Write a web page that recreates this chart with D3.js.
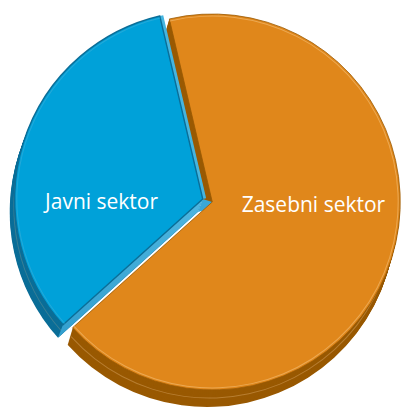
<!DOCTYPE html>
<html>
<head>
<meta charset="utf-8">
<script src="https://cdn.jsdelivr.net/npm/d3@7"></script>
<style>
  html, body { margin: 0; padding: 0; background: #fff; }
  svg { display: block; }
  .label { font-family: "Open Sans", sans-serif; font-size: 21px; fill: #fff; }
</style>
</head>
<body>
<div id="chart"></div>
<script>
// data
const categories = ["Zasebni sektor", "Javni sektor"];
const values = [67, 33];
const faceColors = ["#e0871b", "#00a1d9"];
const rimColors = ["#995902", "#0b6e98"];
const wallColors = ["#995902", "#45b5e0"];

// setup canvas
const width = 406;
const height = 409;
const cx = 207.5, cy = 200.5;
const radius = 188;
const explode = 5;
// extrusion offset of the 3d side, per slice
const depths = [[-5, 17], [-5, 13]];
const steps = 17;
const startAngle = -13.2 * Math.PI / 180;

const svg = d3.select("#chart").append("svg")
  .attr("width", width)
  .attr("height", height);

// gradient for the lit wall of the blue slice
const grad = svg.append("defs").append("linearGradient")
  .attr("id", "bluewall")
  .attr("x1", 0).attr("y1", 0).attr("x2", 0.4).attr("y2", 1);
grad.append("stop").attr("offset", "0%").attr("stop-color", "#62c6ec");
grad.append("stop").attr("offset", "100%").attr("stop-color", "#2a98c9");

const pie = d3.pie()
  .sort(null)
  .startAngle(startAngle)
  .endAngle(startAngle + 2 * Math.PI)
  .value(d => d);

const arcs = pie(values);

const arc = d3.arc().innerRadius(0).outerRadius(radius);
const rimHighlight = d3.arc().innerRadius(radius - 2.6).outerRadius(radius - 1.6);
const labelArc = d3.arc().innerRadius(0).outerRadius(2 * 106);

// centre of each (exploded) slice
arcs.forEach(d => {
  const mid = (d.startAngle + d.endAngle) / 2;
  d.cx = cx + explode * Math.sin(mid);
  d.cy = cy - explode * Math.cos(mid);
});

function pt(a, r) { return [r * Math.sin(a), -r * Math.cos(a)]; }

// draw order: blue side first, then orange side, then the faces
const order = [1, 0];

order.forEach(i => {
  const d = arcs[i];
  const depth = depths[i];
  const g = svg.append("g").attr("transform", `translate(${d.cx},${d.cy})`);
  // stacked copies give the side wall
  for (let k = steps; k >= 1; k--) {
    g.append("path")
      .attr("d", arc(d))
      .attr("transform", `translate(${depth[0] * k / steps},${depth[1] * k / steps})`)
      .attr("fill", rimColors[i]);
  }
  // faint highlight lines on the rim
  g.append("path")
    .attr("d", rimHighlight(d))
    .attr("transform", `translate(${depth[0] * 0.6},${depth[1] * 0.6})`)
    .attr("fill", "#f2c48a")
    .attr("opacity", i === 0 ? 0.35 : 0.2);

  // radial wall at the start edge (visible below the slice)
  const p0 = pt(d.startAngle, radius);
  g.append("path")
    .attr("d", d3.line()([[0, 0], p0, [p0[0] + depth[0], p0[1] + depth[1]], depth]) + "Z")
    .attr("fill", i === 1 ? "url(#bluewall)" : wallColors[i]);
});

// fill the small notch between the two apexes
{
  const b = arcs[1], o = arcs[0];
  const bd = depths[1];
  svg.append("path")
    .attr("d", d3.line()([
      [b.cx, b.cy], [o.cx, o.cy], [o.cx + depths[0][0] * 0.4, o.cy + depths[0][1] * 0.4],
      [b.cx + bd[0], b.cy + bd[1]]]) + "Z")
    .attr("fill", "#3aa7d6");
}

// light bevel on the top edge of the blue slice
{
  const d = arcs[1];
  const a = d.endAngle;
  const p1 = pt(a, radius);
  const w = [3.5 * Math.cos(a), 3.5 * Math.sin(a)];
  svg.append("path")
    .attr("transform", `translate(${d.cx},${d.cy})`)
    .attr("d", d3.line()([[0, 0], p1, [p1[0] + w[0], p1[1] + w[1]], w]) + "Z")
    .attr("fill", wallColors[1]);
}

// top faces
order.forEach(i => {
  const d = arcs[i];
  const g = svg.append("g").attr("transform", `translate(${d.cx},${d.cy})`);
  g.append("path")
    .attr("d", arc(d))
    .attr("fill", faceColors[i])
    .attr("stroke", rimColors[i])
    .attr("stroke-width", i === 1 ? 1.4 : 0.8);
  g.append("path")
    .attr("d", rimHighlight(d))
    .attr("fill", i === 0 ? "#f1b66a" : "#30acd9")
    .attr("opacity", 0.7);
});

// labels
arcs.forEach((d, i) => {
  const c = labelArc.centroid(d);
  svg.append("text")
    .attr("class", "label")
    .attr("x", d.cx + c[0])
    .attr("y", d.cy + 3)
    .attr("dy", "0.35em")
    .attr("text-anchor", "middle")
    .text(categories[i]);
});
</script>
</body>
</html>
